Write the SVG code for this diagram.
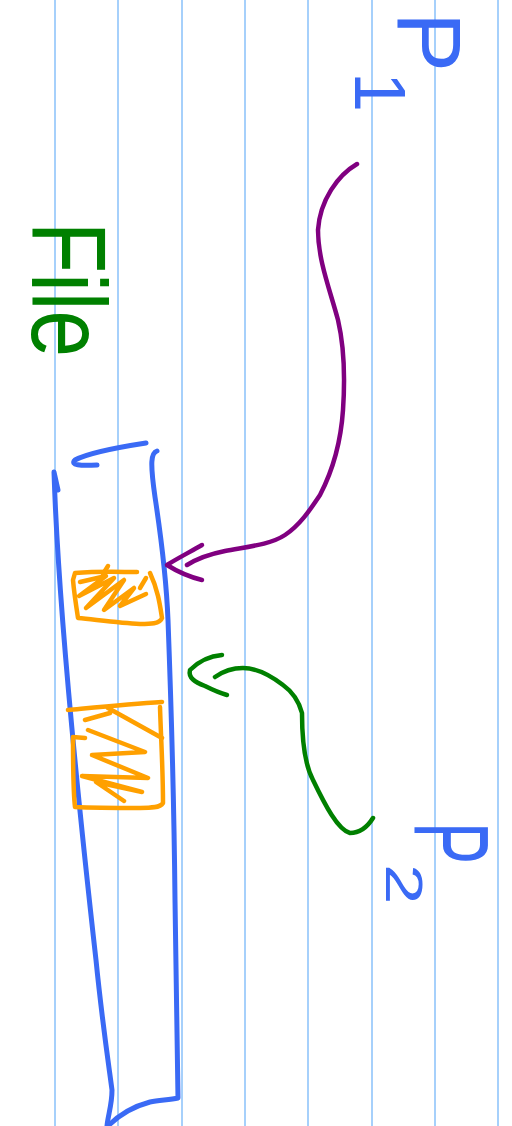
<svg xmlns="http://www.w3.org/2000/svg" width="512" height="1126" viewBox="0 0 512 1126">
<style>
.rule{stroke:#a6d0fb;stroke-width:2;fill:none}
.ink{fill:none;stroke-linecap:round;stroke-linejoin:round}
.blue{stroke:#3a6af5;stroke-width:5}
.orange{stroke:#ffa000;stroke-width:4.5}
.purple{stroke:#800080;stroke-width:4.5}
.green{stroke:#008000;stroke-width:4.5}
.lbl{font-family:"Liberation Sans","DejaVu Sans",sans-serif}
</style>
<rect width="512" height="1126" fill="#ffffff"/>
<g id="ruled-lines">
<line class="rule" x1="55" y1="0" x2="55" y2="1126"/>
<line class="rule" x1="118" y1="0" x2="118" y2="1126"/>
<line class="rule" x1="182" y1="0" x2="182" y2="1126"/>
<line class="rule" x1="245" y1="0" x2="245" y2="1126"/>
<line class="rule" x1="308" y1="0" x2="308" y2="1126"/>
<line class="rule" x1="372" y1="0" x2="372" y2="1126"/>
<line class="rule" x1="435" y1="0" x2="435" y2="1126"/>
<line class="rule" x1="498" y1="0" x2="498" y2="1126"/>
</g>
<g id="file-shape">
<path class="ink blue" d="M146 443 C120 447 90 452 75 460 C70 465 80 466 97 465"/>
<path class="ink blue" d="M58 490 L54 472 C58 600 78 800 96 960 C102 1020 108 1060 112 1090 C112 1105 108 1115 107 1126"/>
<path class="ink blue" d="M157 451 C151 453 150 462 155 497 C160 530 166 570 168 620 C171 700 174 800 175 900 C177 1000 178 1060 178 1098 C170 1100 160 1100 150 1102 C135 1106 120 1114 108 1126"/>
</g>
<g id="block-1">
<path class="ink orange" d="M75 573 C100 571 120 572 137 572 M150 573 C158 590 160 605 162 618 C160 624 150 624 140 624 C120 623 98 620 78 618 C76 605 74 592 73 580 L75 573"/>
<path class="ink orange" d="M80 582 L106 576 L79 596 L114 578 L86 608 L124 580 L104 610 L134 588 L120 606 L146 594 M103 574 L108 566 M140 588 L146 578"/>
</g>
<g id="block-2">
<path class="ink orange" d="M68 710 C100 707 130 704 162 702 M160 707 C161 740 163 770 163 803 C160 808 150 808 140 808 C120 808 95 808 75 807 C73 790 73 760 73 737 L85 738"/>
<path class="ink orange" d="M88 730 L145 752 L92 755 L148 778 L82 776 L142 792 L96 782 L124 801 M108 708 L162 738 M110 713 L85 720"/>
</g>
<g id="connectors">
<path class="ink purple" d="M357 164 C338 175 320 200 318 230 C318 260 330 290 338 320 C345 350 345 380 343 410 C341 440 333 470 320 495 C310 510 300 525 285 535 C270 545 245 547 225 551 C205 555 195 560 187 565"/>
<path class="ink purple" d="M202 545 C190 552 178 558 167 565 C178 572 190 577 202 580"/>
<path class="ink green" d="M373 818 C368 826 360 833 350 833 C338 830 325 805 313 780 C305 765 302 745 302 713 C298 698 290 690 283 685 C270 675 255 668 243 668 C232 668 222 672 215 677"/>
<path class="ink green" d="M222 655 C210 656 198 662 190 670 C188 678 195 682 205 686 C213 690 220 693 227 695"/>
</g>
<g id="label-file">
<text class="lbl" transform="translate(32,222) rotate(90)" font-size="105" fill="#008000" textLength="135" lengthAdjust="spacingAndGlyphs">File</text>
</g>
<g id="label-p1">
<text class="lbl" transform="translate(398,12) rotate(90)" font-size="90" fill="#3a6af5">P<tspan dy="43" font-size="72">1</tspan></text>
</g>
<g id="label-p2">
<text class="lbl" transform="translate(415,822) rotate(90) scale(0.6,1)" font-size="105" fill="#3a6af5">P</text>
<text class="lbl" transform="translate(386,864) rotate(90) scale(1.4,1)" font-size="52" fill="#3a6af5">2</text>
</g>
</svg>
